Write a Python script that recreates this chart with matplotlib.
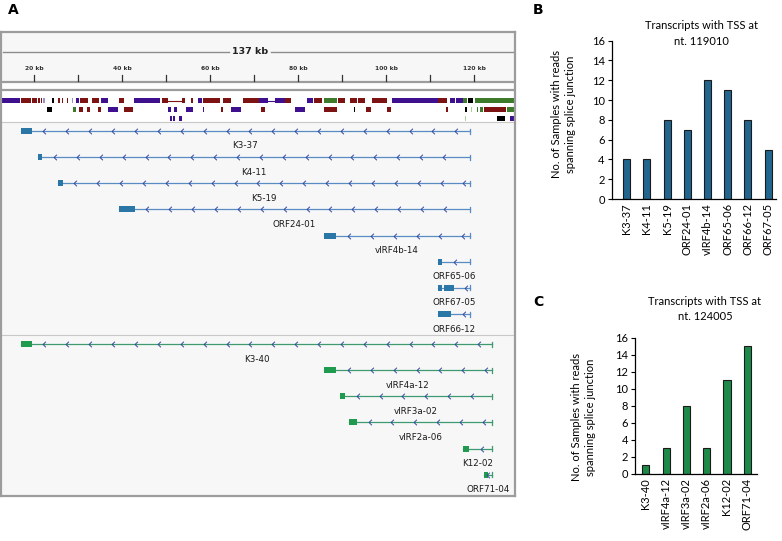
import numpy as np
import matplotlib
matplotlib.use("Agg")
import matplotlib.pyplot as plt
from matplotlib.path import Path

# ---- panel A data (genome coordinates in kb) ----
blue_names = ["K3-37", "K4-11", "K5-19", "ORF24-01", "vIRF4b-14",
              "ORF65-06", "ORF67-05", "ORF66-12"]
blue_exons = [[(16.98, 19.41)], [(20.9, 21.8)], [(25.45, 26.45)], [(39.25, 42.8)],
              [(85.8, 88.6)], [(111.75, 112.65)],
              [(111.75, 112.65), (113.1, 115.4)], [(111.75, 114.7)]]
blue_tss = 119.01

green_names = ["K3-40", "vIRF4a-12", "vIRF3a-02", "vIRF2a-06", "K12-02", "ORF71-04"]
green_exons = [[(16.98, 19.41)], [(85.8, 88.6)], [(89.5, 90.6)], [(91.5, 93.3)],
               [(117.4, 118.8)], [(122.2, 123.1)]]
green_tss = 124.005

# annotation track: (start kb, end kb, colour key)
track_row1 = [(12.6, 16.75, "p"), (16.9, 19.25, "r"), (19.5, 20.6, "r"), (20.85, 21.2, "r"),
              (21.45, 21.8, "r"), (22.05, 22.45, "l"), (24.1, 24.5, "k"), (25.45, 25.85, "r"),
              (26.2, 26.6, "r"), (27.35, 27.6, "r"), (28.5, 28.85, "l"), (29.5, 30.1, "p"),
              (30.4, 32.3, "r"), (33.05, 34.7, "r"), (35.15, 36.8, "p"), (39.25, 40.4, "r"),
              (42.75, 48.6, "p"), (49.1, 50.3, "r"), (53.5, 54.25, "r"), (55.6, 56.0, "r"),
              (57.3, 58.1, "p"), (58.4, 62.2, "r"), (62.95, 64.65, "r"), (67.35, 71.15, "r"),
              (71.15, 73.1, "p"), (74.7, 77.0, "p"), (77.0, 78.3, "r"), (81.9, 83.4, "p"),
              (83.65, 85.45, "r"), (85.9, 88.7, "g"), (89.1, 90.6, "r"), (91.75, 93.3, "r"),
              (93.65, 95.2, "r"), (96.7, 100.1, "r"), (101.2, 111.8, "p"), (111.8, 113.7, "r"),
              (114.5, 115.65, "p"), (115.9, 117.5, "p"), (117.5, 118.3, "g"), (118.5, 119.8, "k"),
              (120.15, 129.3, "g")]
track_row2 = [(22.8, 23.95, "k"), (28.7, 29.5, "g"), (30.2, 31.0, "r"), (31.9, 32.65, "r"),
              (34.55, 35.1, "r"), (36.8, 39.1, "p"), (40.4, 42.5, "r"), (50.45, 51.0, "p"),
              (51.75, 52.5, "p"), (54.5, 56.15, "p"), (58.4, 58.65, "p"), (62.35, 62.95, "r"),
              (64.7, 66.95, "p"), (71.5, 72.4, "r"), (79.25, 81.55, "p"), (85.95, 88.7, "r"),
              (92.66, 92.9, "k"), (95.4, 96.45, "r"), (100.1, 101.05, "r"), (113.55, 114.1, "r"),
              (117.9, 118.3, "k"), (119.25, 119.55, "lg"), (120.55, 120.9, "g"), (121.3, 122.05, "g"),
              (122.2, 127.15, "r"), (127.35, 129.3, "g")]
track_row3 = [(50.85, 51.2, "p"), (51.6, 51.95, "p"), (52.95, 53.5, "p"), (117.9, 118.1, "lg"),
              (125.15, 127.05, "k"), (128.1, 129.3, "p")]
track_introns = [(50.3, 53.5, "r"), (73.1, 74.7, "p")]

# ---- panels B / C data ----
b_labels = ["K3-37", "K4-11", "K5-19", "ORF24-01", "vIRF4b-14", "ORF65-06", "ORF66-12", "ORF67-05"]
b_values = [4, 4, 8, 7, 12, 11, 8, 5]
c_labels = ["K3-40", "vIRF4a-12", "vIRF3a-02", "vIRF2a-06", "K12-02", "ORF71-04"]
c_values = [1, 3, 8, 3, 11, 15]

track_colors = {"p": "#3e0f8f", "r": "#7d1212", "g": "#3d7a2a", "k": "#000000",
                "l": "#9b90c8", "lg": "#a8d29a"}

W, H = 782, 541
fig = plt.figure(figsize=(W / 100, H / 100), dpi=100)


def frac(x0, y0, x1, y1):
    # pixel box -> figure fraction rect
    return [x0 / W, 1 - y1 / H, (x1 - x0) / W, (y1 - y0) / H]


# ================= panel A =================
ax = fig.add_axes(frac(1, 32, 515, 496))
ax.set_xlim(12.43, 129.25)
ax.set_ylim(496, 32)
ax.set_xticks([])
ax.set_yticks([])
for s in ax.spines.values():
    s.set_color("#9c9c9c")
    s.set_linewidth(1.6)

ax.axhspan(32, 82, color="#f7f7f7", zorder=0)
ax.axhspan(82, 90, color="#fdfdfd", zorder=0)
ax.axhspan(90, 122, color="white", zorder=0)
ax.axhspan(122, 496, color="#f7f7f7", zorder=0)
for yy in (82, 90):
    ax.axhline(yy, color="#9c9c9c", lw=1.6)
ax.axhline(122, color="#c8c8c8", lw=0.8)
ax.axhline(335, color="#c8c8c8", lw=0.8)

# ruler
ax.plot([12.8, 64.2], [52, 52], color="#8c8c8c", lw=1)
ax.plot([73.9, 128.9], [52, 52], color="#8c8c8c", lw=1)
ax.text(69.0, 52, "137 kb", ha="center", va="center", fontsize=6.8,
        fontweight="bold", color="#222222")
for kb in range(20, 130, 10):
    ax.plot([kb, kb], [75, 80.5], color="#333333", lw=0.9)
    if kb % 20 == 0:
        ax.text(kb, 68, f"{kb} kb", ha="center", va="center", fontsize=4.3,
                fontweight="bold", color="#333333")

# annotation track
for row, yc in ((track_row1, 100.5), (track_row2, 109), (track_row3, 118)):
    for start, end, key in row:
        ax.broken_barh([(start, end - start)], (yc - 2.5, 5),
                       facecolors=track_colors[key], zorder=2)
for start, end, key in track_introns:
    ax.plot([start, end], [100.5, 100.5], color=track_colors[key], lw=0.8, zorder=2)

chevron = Path([(0.5, 1.0), (-0.5, 0.0), (0.5, -1.0)],
               [Path.MOVETO, Path.LINETO, Path.LINETO])


def draw_transcripts(names, exons, tss, y0, exon_color, line_color):
    for i, (name, ex) in enumerate(zip(names, exons)):
        y = y0 + i * 26.15
        left = ex[0][0]
        ax.plot([left, tss], [y, y], color=line_color, lw=0.9, zorder=3)
        ax.plot([tss, tss], [y - 2.5, y + 2.5], color=line_color, lw=0.9, zorder=3)
        for a, b in ex:
            ax.broken_barh([(a, b - a)], (y - 3, 6), facecolors=exon_color, zorder=4)
        xs = np.arange(ex[-1][1] + 2.9, tss - 0.8, 5.2)
        if len(xs) == 0:
            xs = np.array([tss - 0.9])
        ax.plot(xs, np.full(len(xs), y), linestyle="none", marker=chevron,
                markersize=4, markerfacecolor="none", markeredgecolor="#33489e",
                markeredgewidth=0.7, zorder=4)
        ax.text((left + tss) / 2, y + 15, name, ha="center", va="center",
                fontsize=6.3, color="#1a1a1a", zorder=5)


draw_transcripts(blue_names, blue_exons, blue_tss, 131, "#2a76a6", "#5a8cc4")
draw_transcripts(green_names, green_exons, green_tss, 344, "#1f9a4e", "#3f9a70")

fig.text(8 / W, 1 - 10 / H, "A", fontsize=10, fontweight="bold", va="center", ha="left")


# ================= panels B and C =================
def bar_panel(rect, labels, values, xlim, color, title, title_xy, ylab_xy, letter_xy, letter):
    bx = fig.add_axes(rect)
    x = np.arange(len(values))
    bx.bar(x, values, width=0.35, color=color, edgecolor="#1b1b1b", linewidth=0.8)
    bx.set_xlim(*xlim)
    bx.set_ylim(0, 16)
    bx.set_yticks(range(0, 17, 2))
    bx.set_xticks(x)
    bx.set_xticklabels(labels, rotation=90, fontsize=8, family="Lato")
    for t in bx.get_yticklabels():
        t.set_fontsize(8)
        t.set_family("Lato")
    bx.tick_params(axis="x", length=0, pad=3)
    bx.tick_params(axis="y", length=3, width=0.8, pad=2)
    for s in ("top", "right"):
        bx.spines[s].set_visible(False)
    for s in ("left", "bottom"):
        bx.spines[s].set_linewidth(0.9)
    fig.text(title_xy[0] / W, 1 - title_xy[1] / H, title, ha="center", va="center",
             fontsize=8, family="Lato", linespacing=1.5)
    fig.text(ylab_xy[0] / W, 1 - ylab_xy[1] / H,
             "No. of Samples with reads\nspanning splice junction",
             rotation=90, ha="center", va="center", fontsize=8, family="Lato",
             linespacing=1.3)
    fig.text(letter_xy[0] / W, 1 - letter_xy[1] / H, letter, fontsize=10,
             fontweight="bold", ha="left", va="center")


bar_panel(frac(611.7, 40.7, 776, 199), b_labels, b_values, (-0.74, 7.39), "#22668f",
          "Transcripts with TSS at\nnt. 119010", (701.7, 33.5), (563.5, 114), (533, 10), "B")
bar_panel(frac(635, 337.7, 757, 474), c_labels, c_values, (-0.53, 5.48), "#1e8a4a",
          "Transcripts with TSS at\nnt. 124005", (705, 309), (583.5, 417), (533, 302), "C")

fig.savefig("out.png", dpi=100)
